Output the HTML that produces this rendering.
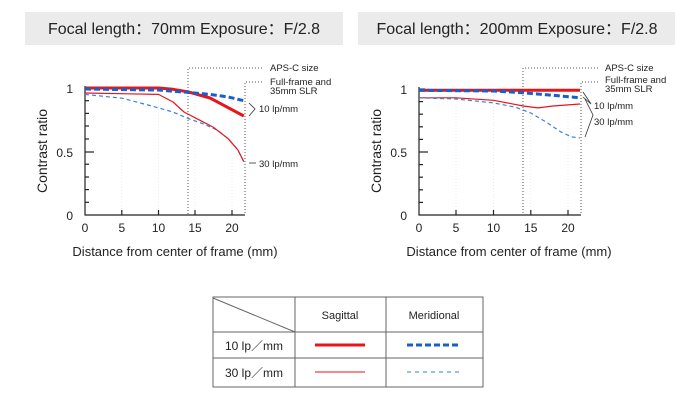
<!DOCTYPE html>
<html><head><style>
body{margin:0;background:#fff;}
svg text{font-family:"Liberation Sans",sans-serif;fill:#222;}
</style></head><body>
<svg width="700" height="400" viewBox="0 0 700 400" xmlns="http://www.w3.org/2000/svg">
<rect x="25" y="12" width="318" height="33" fill="#ebebeb"/>
<rect x="358" y="12" width="317" height="33" fill="#ebebeb"/>
<text x="184" y="34" font-size="16" text-anchor="middle">Focal length：70mm  Exposure：F/2.8</text>
<text x="517" y="34" font-size="16" text-anchor="middle">Focal length：200mm  Exposure：F/2.8</text>

<!-- LEFT CHART -->
<g stroke="#ddd" stroke-width="0.6" stroke-dasharray="1,2">
<line x1="121.8" y1="88" x2="121.8" y2="215"/><line x1="158.5" y1="88" x2="158.5" y2="215"/><line x1="195" y1="88" x2="195" y2="215"/><line x1="232" y1="88" x2="232" y2="215"/>
</g>
<g stroke="#222" stroke-width="1.2" fill="none">
<polyline points="85,86 85,215 245,215"/>
<line x1="85" y1="88" x2="91" y2="88"/><line x1="85" y1="152" x2="94" y2="152"/>
<line x1="85" y1="100.7" x2="89" y2="100.7"/><line x1="85" y1="113.4" x2="89" y2="113.4"/><line x1="85" y1="126" x2="89" y2="126"/><line x1="85" y1="139" x2="89" y2="139"/>
<line x1="85" y1="164.2" x2="89" y2="164.2"/><line x1="85" y1="177" x2="89" y2="177"/><line x1="85" y1="189.6" x2="89" y2="189.6"/><line x1="85" y1="202.3" x2="89" y2="202.3"/>
<line x1="121.8" y1="215" x2="121.8" y2="210"/><line x1="158.5" y1="215" x2="158.5" y2="210"/><line x1="195" y1="215" x2="195" y2="210"/><line x1="232" y1="215" x2="232" y2="210"/>
</g>
<g font-size="12" text-anchor="middle">
<text x="85" y="232">0</text><text x="121.8" y="232">5</text><text x="158.5" y="232">10</text><text x="195" y="232">15</text><text x="232" y="232">20</text>
</g>
<g font-size="12" text-anchor="end"><text x="73" y="93">1</text><text x="73" y="157">0.5</text><text x="73" y="220">0</text></g>
<text x="0" y="0" font-size="14" text-anchor="middle" transform="translate(47,151) rotate(-90)">Contrast ratio</text>
<text x="175" y="256" font-size="13" text-anchor="middle">Distance from center of frame (mm)</text>
<g stroke="#555" stroke-width="1" stroke-dasharray="1,2" fill="none">
<polyline points="262,68 188,68 188,215"/>
<polyline points="262,82 245,82 245,215"/>
</g>
<g font-size="9.5"><text x="270" y="71">APS-C size</text><text x="270" y="85">Full-frame and</text><text x="270" y="94">35mm SLR</text>
<text x="259" y="112">10 lp/mm</text><text x="259" y="167">30 lp/mm</text></g>
<polyline points="249,103 255,109 249,116" stroke="#333" fill="none" stroke-width="0.8"/>
<line x1="249" y1="163" x2="256" y2="163" stroke="#333" stroke-width="0.8"/>
<g fill="none" stroke-linejoin="round">
<polyline stroke="#e8141c" stroke-width="3" points="85,88 158.5,88 173,89.3 188,91.8 210,98 224.7,105.8 243.8,116"/>
<polyline stroke="#1a5fc8" stroke-width="3" stroke-dasharray="6,3" points="85,89 158.5,90 188,92.4 210,94.4 228.3,97 243.8,100.7"/>
<polyline stroke="#3a80dd" stroke-width="1.2" stroke-dasharray="4,3" points="85,94.4 121.8,98.2 151,105.8 173,112 188,118.5 202.6,123.6 217.3,130 228.3,138.8 237.9,150 243.8,161.7"/>
<polyline stroke="#e8141c" stroke-width="1.2" points="85,93 158.5,94.4 173,102 184,112 199,119.8 213.6,127.4 228.3,138.8 237.9,150 243.8,161.7"/>
</g>

<!-- RIGHT CHART -->
<g stroke="#ddd" stroke-width="0.6" stroke-dasharray="1,2">
<line x1="456" y1="89" x2="456" y2="215"/><line x1="493.5" y1="89" x2="493.5" y2="215"/><line x1="530.8" y1="89" x2="530.8" y2="215"/><line x1="568" y1="89" x2="568" y2="215"/>
</g>
<g stroke="#222" stroke-width="1.2" fill="none">
<polyline points="419,87 419,215 581,215"/>
<line x1="419" y1="89" x2="425" y2="89"/><line x1="419" y1="152" x2="428" y2="152"/>
<line x1="419" y1="101.6" x2="423" y2="101.6"/><line x1="419" y1="114.2" x2="423" y2="114.2"/><line x1="419" y1="126.8" x2="423" y2="126.8"/><line x1="419" y1="139.4" x2="423" y2="139.4"/>
<line x1="419" y1="164.6" x2="423" y2="164.6"/><line x1="419" y1="177.2" x2="423" y2="177.2"/><line x1="419" y1="189.8" x2="423" y2="189.8"/><line x1="419" y1="202.4" x2="423" y2="202.4"/>
<line x1="456" y1="215" x2="456" y2="210"/><line x1="493.5" y1="215" x2="493.5" y2="210"/><line x1="530.8" y1="215" x2="530.8" y2="210"/><line x1="568" y1="215" x2="568" y2="210"/>
</g>
<g font-size="12" text-anchor="middle">
<text x="419" y="232">0</text><text x="456" y="232">5</text><text x="493.5" y="232">10</text><text x="530.8" y="232">15</text><text x="568" y="232">20</text>
</g>
<g font-size="12" text-anchor="end"><text x="407" y="94">1</text><text x="407" y="157">0.5</text><text x="407" y="220">0</text></g>
<text x="0" y="0" font-size="14" text-anchor="middle" transform="translate(381,151) rotate(-90)">Contrast ratio</text>
<text x="509" y="256" font-size="13" text-anchor="middle">Distance from center of frame (mm)</text>
<g stroke="#555" stroke-width="1" stroke-dasharray="1,2" fill="none">
<polyline points="598,68 523,68 523,215"/>
<polyline points="598,82 581,82 581,215"/>
</g>
<g font-size="9.5"><text x="605" y="71">APS-C size</text><text x="605" y="83">Full-frame and</text><text x="605" y="92">35mm SLR</text>
<text x="594" y="109">10 lp/mm</text><text x="594" y="125">30 lp/mm</text></g>
<g stroke="#333" stroke-width="0.8" fill="none">
<polyline points="583,92 591,104 583,97"/>
<polyline points="585,99 593,115 585,137"/>
</g>
<g fill="none" stroke-linejoin="round">
<polyline stroke="#e8141c" stroke-width="3" points="419,90.3 580,90.3"/>
<polyline stroke="#1a5fc8" stroke-width="3" stroke-dasharray="6,3" points="419,90.3 493.5,91 523.3,92.8 553,95.3 580,97.8"/>
<polyline stroke="#e8141c" stroke-width="1.2" points="419,97.8 456,97.8 493.5,100.3 523.3,106 538,107.9 553,106 580,104"/>
<polyline stroke="#3a80dd" stroke-width="1.2" stroke-dasharray="4,3" points="419,97.8 456,99 493.5,102.9 515.9,107.3 530.8,113 545.7,121.8 560.6,131.8 571.7,136.9 580,138"/>
</g>

<!-- TABLE -->
<g stroke="#666" stroke-width="1" fill="none">
<rect x="213" y="297" width="270" height="90"/>
<line x1="295" y1="297" x2="295" y2="387"/><line x1="386" y1="297" x2="386" y2="387"/>
<line x1="213" y1="332" x2="483" y2="332"/><line x1="213" y1="358" x2="483" y2="358"/>
<line x1="213" y1="298" x2="295" y2="332"/>
</g>
<g font-size="11" text-anchor="middle"><text x="340" y="319">Sagittal</text><text x="434" y="319">Meridional</text></g>
<g font-size="12" text-anchor="middle"><text x="254" y="350">10 lp／mm</text><text x="254" y="377">30 lp／mm</text></g>
<line x1="315" y1="345" x2="365" y2="345" stroke="#e8141c" stroke-width="3"/>
<line x1="407" y1="345" x2="460" y2="345" stroke="#1a5fc8" stroke-width="3" stroke-dasharray="6,3"/>
<line x1="315" y1="372" x2="365" y2="372" stroke="#e8141c" stroke-width="1"/>
<line x1="407" y1="372" x2="460" y2="372" stroke="#3a80dd" stroke-width="1" stroke-dasharray="4,4"/>
</svg>
</body></html>
